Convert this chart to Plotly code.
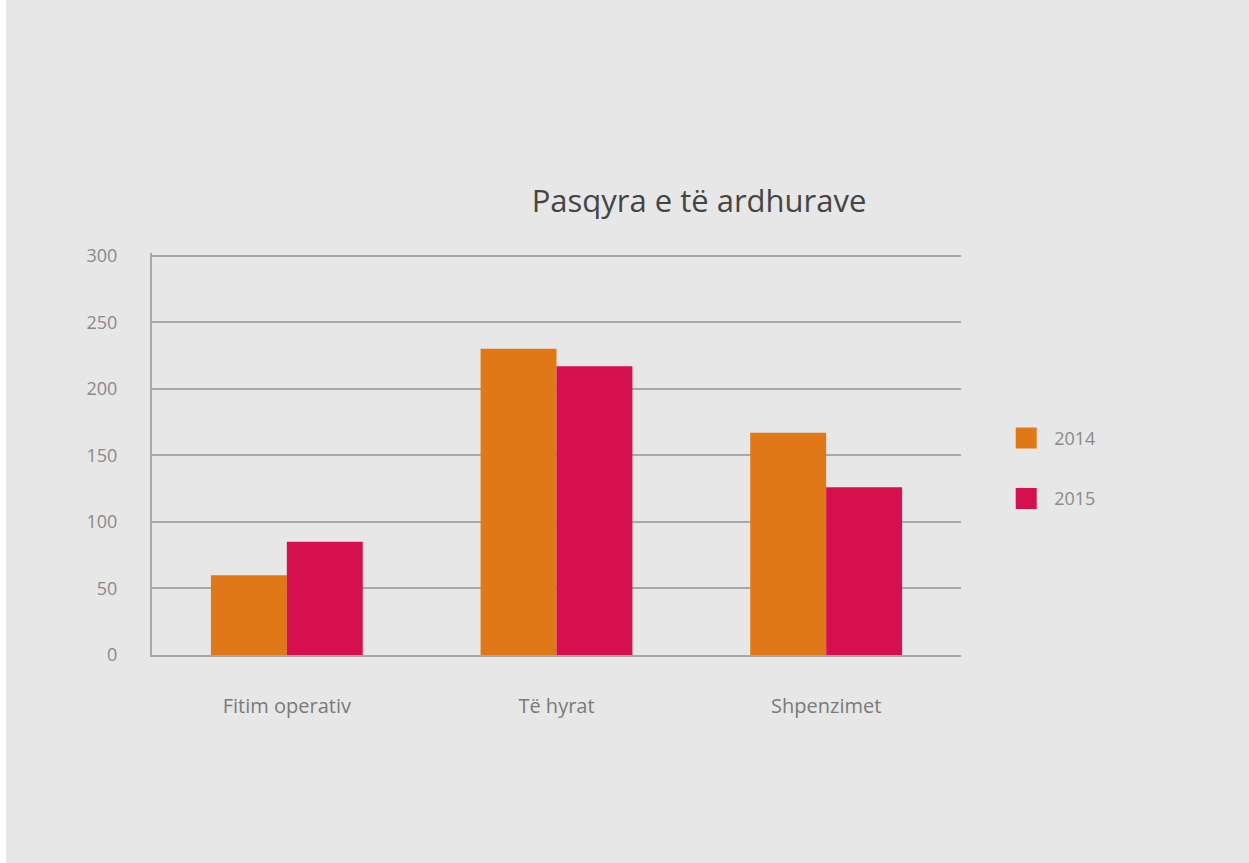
import plotly.graph_objects as go

categories = ["Fitim operativ", "Të hyrat", "Shpenzimet"]
series_names = ["2014", "2015"]
values_2014 = [60, 230, 167]
values_2015 = [85, 217, 126]
colors = ["#E07818", "#D6104F"]
y_ticks = [0, 50, 100, 150, 200, 250, 300]

fig = go.Figure()
for name, vals, col in zip(series_names, [values_2014, values_2015], colors):
    fig.add_trace(go.Bar(x=categories, y=vals, name=name, marker_color=col,
                         marker_line_width=0, showlegend=False))
for name, col in zip(series_names, colors):
    fig.add_trace(go.Scatter(x=[None], y=[None], mode="markers", name=name,
                             legendgroup=name,
                             marker=dict(symbol="square", size=16, color=col,
                                         line=dict(width=8, color=col))))

font_family = "'Open Sans', Lato, sans-serif"
fig.update_layout(
    width=1249, height=863,
    margin=dict(l=152, r=288, t=253, b=208),
    paper_bgcolor="white",
    plot_bgcolor="rgba(0,0,0,0)",
    barmode="group",
    bargap=0.437,
    bargroupgap=0,
    title=dict(text="Pasqyra e të ardhurave", x=(699 - 152) / 809,
               xref="paper", xanchor="center",
               y=1 - 201 / 863, yanchor="middle",
               font=dict(family=font_family, size=31, color="#454545", weight=500)),
    font=dict(family=font_family, color="#8a8a8a", size=16),
    legend=dict(x=1.046, y=0.585, xanchor="left", yanchor="top",
                font=dict(size=18, color="#8a8a8a"), itemwidth=46,
                tracegroupgap=34, bgcolor="rgba(0,0,0,0)"),
    shapes=[dict(type="rect", xref="paper", yref="paper",
                 x0=-0.1805, x1=1.5, y0=-0.7, y1=1.63,
                 fillcolor="#e7e7e7", line_width=0, layer="below")],
)
fig.update_yaxes(range=[0, 302], tickvals=y_ticks, showgrid=True,
                 gridcolor="#a8a8a8", gridwidth=2, zeroline=False,
                 showline=True, linecolor="#a8a8a8", linewidth=2,
                 ticklabelstandoff=29, tickfont=dict(size=18, color="#8a8a8a"))
fig.update_xaxes(showline=True, linecolor="#a8a8a8", linewidth=2,
                 ticklabelstandoff=32, tickfont=dict(size=20, color="#7a7a7a"))

fig.write_html("out.html")
